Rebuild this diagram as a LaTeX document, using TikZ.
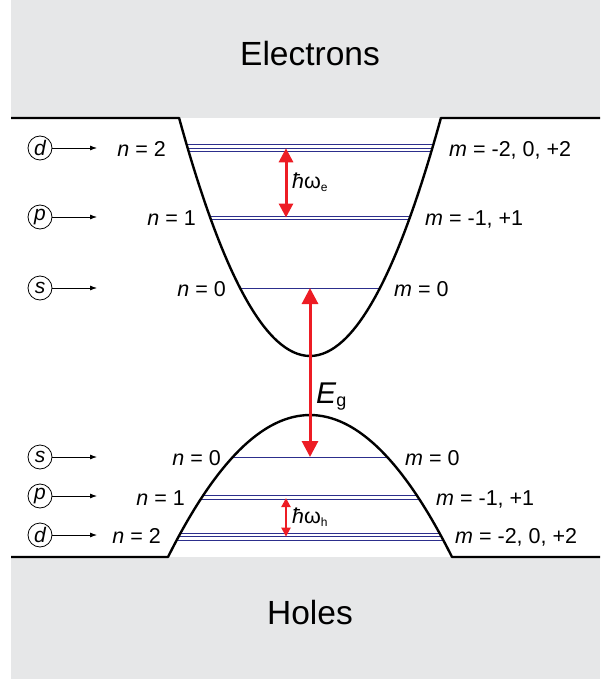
\documentclass[tikz,border=0pt]{standalone}
\usepackage{fontspec}
\setmainfont{Liberation Sans}
\usetikzlibrary{arrows.meta}
\definecolor{bandgray}{RGB}{230,231,232}
\definecolor{levelblue}{RGB}{44,46,140}
\definecolor{gapred}{RGB}{237,28,36}
\newcommand{\lblfont}{\fontsize{21.5}{24}\selectfont}
\newcommand{\bandfont}{\fontsize{33.5}{36}\selectfont}
\newcommand{\lowsub}[2]{\lower#1\hbox{\fontsize{12}{13}\selectfont #2}}

\begin{document}
\begin{tikzpicture}[x=1pt, y=-1pt,
  every node/.style={font=\lblfont, inner sep=0pt},
  band/.style={fill=bandgray},
  edge/.style={line width=2.4pt, black, line join=round},
  level/.style={levelblue, line width=1pt},
  orb/.style={draw, circle, line width=0.8pt, minimum size=24pt, inner sep=0pt, font=\fontsize{21}{22}\selectfont\itshape},
  orbarrow/.style={-{Latex[length=7pt,width=5pt]}, line width=0.8pt},
  gap/.style={{Triangle[length=#1,width=#1]}-{Triangle[length=#1,width=#1]}, gapred, line width=3pt}]
\useasboundingbox (0,0) rectangle (600,679);
% Bands
\fill[band] (11,0) rectangle (600,118);
\fill[band] (11,557) rectangle (600,679);
\node[font=\bandfont, anchor=base] (elec) at (310,65.5) {Electrons};
\node[font=\bandfont, anchor=base] (holes) at (310,624) {Holes};
% Levels
\foreach \y in {144.5,148.3,152,216,219.5,288} {
  \pgfmathsetmacro\hw{8.4850*sqrt(356-\y)}
  \draw[level] ({310-\hw},\y) -- ({310+\hw},\y);
}
\foreach \y in {457,495.7,499,533,536.5,540} {
  \pgfmathsetmacro\hw{11.9164*sqrt(\y-415)}
  \draw[level] ({310-\hw},\y) -- ({310+\hw},\y);
}
% Band edges
\draw[edge] (11,118) -- (179.1,118) .. controls (266.4,435.3) and (353.6,435.3) .. (440.9,118) -- (600,118);
\draw[edge] (11,557) -- (168,557) .. controls (262.7,367.7) and (357.3,367.7) .. (452,557) -- (600,557);
% Orbitals
\foreach \name/\letter/\y in {ud/d/148, up/p/217, us/s/288, ls/s/457, lp/p/496, ld/d/535} {
  \node[orb] (\name) at (40,\y) {\letter};
  \coordinate (\name-to) at (97,\y);
  \draw[orbarrow] (\name) -- (\name-to);
}
% Quantum numbers
\node[anchor=base east] (un2) at (166,156.5) {\textit{n} = 2};
\node[anchor=base east] (un1) at (196,225.5) {\textit{n} = 1};
\node[anchor=base east] (un0) at (226,296.5) {\textit{n} = 0};
\node[anchor=base west] (um2) at (449,156.5) {\textit{m} = -2, 0, +2};
\node[anchor=base west] (um1) at (425,225.5) {\textit{m} = -1, +1};
\node[anchor=base west] (um0) at (394,296.5) {\textit{m} = 0};
\node[anchor=base east] (ln0) at (221,465.5) {\textit{n} = 0};
\node[anchor=base east] (ln1) at (185,505) {\textit{n} = 1};
\node[anchor=base east] (ln2) at (161,543.5) {\textit{n} = 2};
\node[anchor=base west] (lm0) at (405,465.5) {\textit{m} = 0};
\node[anchor=base west] (lm1) at (436,505) {\textit{m} = -1, +1};
\node[anchor=base west] (lm2) at (455,543.5) {\textit{m} = -2, 0, +2};
% Energy gaps
\coordinate (e2) at (286,148.3);
\coordinate (e1) at (286,217.5);
\coordinate (e0) at (310,288);
\coordinate (h0) at (310,457);
\coordinate (h1) at (286,498);
\coordinate (h2) at (286,536.7);
\draw[gap=14pt] (e2) -- (e1);
\draw[gap=16pt] (e0) -- (h0);
\draw[gap=9pt, line width=2pt] (h1) -- (h2);
\node[anchor=base west] (hwe) at (292,188.5) {\textit{ħ}ω\lowsub{3pt}{e}};
\node[anchor=base west] (hwh) at (292,523.5) {\textit{ħ}ω\lowsub{3pt}{h}};
\node[anchor=base west, font=\fontsize{30}{32}\selectfont] (eg) at (316,403) {\textit{E}\lower3pt\hbox{\fontsize{18}{20}\selectfont g}};
\end{tikzpicture}
\end{document}
